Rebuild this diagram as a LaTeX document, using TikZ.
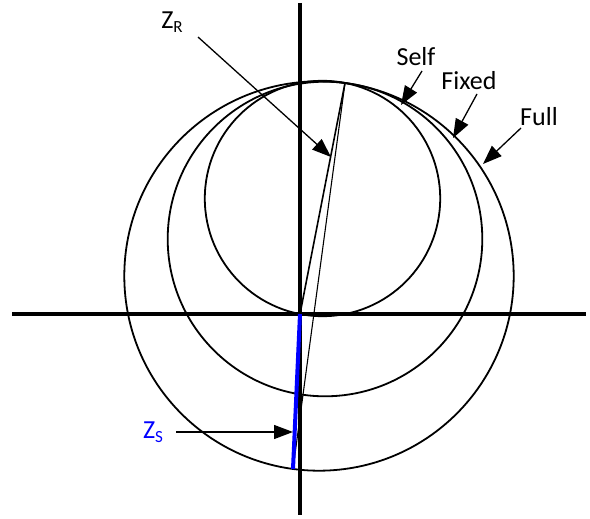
\documentclass[tikz,border=0pt]{standalone}
\usepackage{fontspec}
\setmainfont{Carlito}
\usetikzlibrary{arrows.meta}
\begin{document}
\begin{tikzpicture}[x=1pt,y=-1pt,
  axis/.style={line width=4.5pt},
  circ/.style={line width=1.8pt},
  callout/.style={line width=1.3pt,-{Triangle[length=19pt,width=14pt]}},
  lbl/.style={font=\fontsize{26}{26}\selectfont,inner sep=0pt}]
\useasboundingbox (0,0) rectangle (590,519);
% key points
\coordinate (O) at (300,314);
\coordinate (ZR) at (345,83);
\coordinate (ZS) at (293,469);
\coordinate (Cself) at (322.5,198.5);
\coordinate (Cfix) at (325,239);
\coordinate (Cfull) at (319,276);
% axes
\coordinate (ytop) at (300,3);
\coordinate (ybot) at (300,515);
\coordinate (xl) at (12,314);
\coordinate (xr) at (586,314);
\draw[axis] (ytop) -- (ybot);
\draw[axis] (xl) -- (xr);
% circles
\draw[circ] (Cself) circle[radius=117.7pt];
\draw[circ] (Cfix) circle[radius=157.3pt];
\draw[circ] (Cfull) circle[radius=194.7pt];
% vectors
\draw[line width=1.6pt] (O) -- (ZR);
\draw[line width=1.1pt] (ZR) -- (ZS);
\draw[blue,line width=4pt] (O) -- (ZS);
% labels
\node[lbl] (lzr) at (172,22) {Z{\fontsize{17}{17}\selectfont\raisebox{-4pt}{R}}};
\node[lbl] (lself) at (416,57) {Self};
\node[lbl] (lfix) at (469,81) {Fixed};
\node[lbl] (lfull) at (539,117) {Full};
\node[lbl,text=blue] (lzs) at (153,432) {Z{\fontsize{17}{17}\selectfont\raisebox{-4pt}{S}}};
% callout ends
\coordinate (szr) at (198,37);
\coordinate (sself) at (422,71);
\coordinate (sfix) at (477,94);
\coordinate (sfull) at (521,128);
\coordinate (szs) at (176,432);
\coordinate (tzr) at (331,157);
\coordinate (tself) at (401,105);
\coordinate (tfix) at (453,138);
\coordinate (tfull) at (483,164);
\coordinate (tzs) at (293,432);
\draw[callout] (szr) -- (tzr);
\draw[callout] (sself) -- (tself);
\draw[callout] (sfix) -- (tfix);
\draw[callout] (sfull) -- (tfull);
\draw[callout] (szs) -- (tzs);
\end{tikzpicture}
\end{document}
